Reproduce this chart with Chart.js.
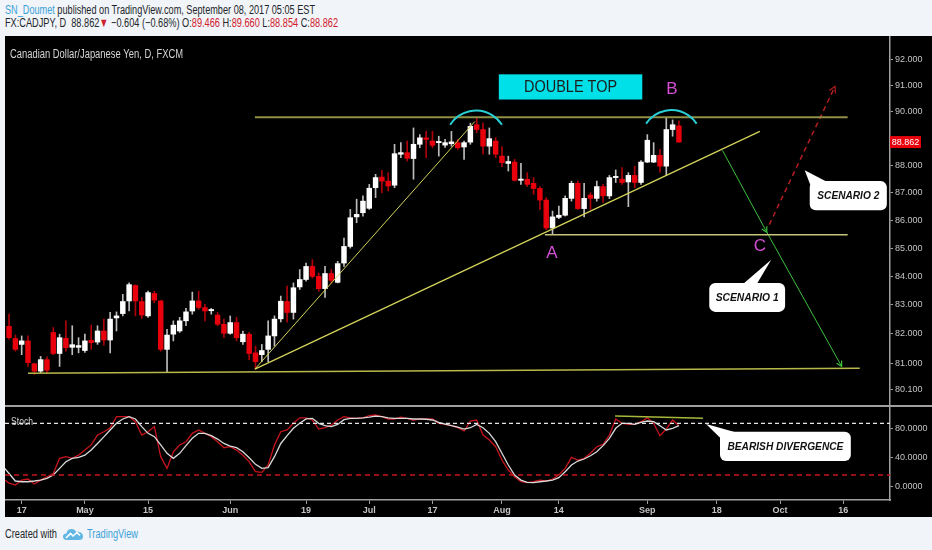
<!DOCTYPE html>
<html>
<head>
<meta charset="utf-8">
<script src="https://cdn.jsdelivr.net/npm/chart.js@4.4.1/dist/chart.umd.min.js"></script>
<style>
html,body{margin:0;padding:0;width:932px;height:550px;overflow:hidden;background:#f1f4f8;font-family:"Liberation Sans",Arial,sans-serif;}
.txt{position:absolute;white-space:nowrap;font-size:12.5px;line-height:14px;color:#22262b;transform-origin:0 50%;}
.blue{color:#3ba2d8}
.red{color:#d0202c}
#panel{position:absolute;left:5px;top:36px;width:927px;height:481px;background:#000;}
.wrap{position:absolute;left:5px;width:927px;}
#sep{position:absolute;left:5px;top:405px;width:927px;height:1.5px;background:#a0a0a0;}
</style>
</head>
<body>
<div id="h1" class="txt" style="left:5px;top:3px"><span class="blue">SN_Doumet</span> published on TradingView.com, September 08, 2017 05:05 EST</div>
<div id="h2" class="txt" style="left:5px;top:16px">FX:CADJPY, D&nbsp; 88.862<span class="red">▼</span> −0.604 (−0.68%) O:<span class="red">89.466</span> H:<span class="red">89.660</span> L:<span class="red">88.854</span> C:<span class="red">88.862</span></div>
<div id="panel"></div>
<div class="wrap" style="top:36px;height:370px"><canvas id="main"></canvas></div>
<div class="wrap" style="top:406px;height:111px"><canvas id="stoch"></canvas></div>
<div id="sep"></div>
<div id="f1" class="txt" style="left:5px;top:527px">Created with</div>
<svg style="position:absolute;left:63px;top:527px" width="20" height="14" viewBox="0 0 20 14">
<path d="M4 13 Q0 13 0 9.5 Q0 6.5 3.5 6.5 Q4 2 8.5 2 Q12 2 13 5 Q14.5 4 16 5 Q20 5.5 20 9.5 Q20 13 16 13 Z" fill="#62b6e4"/>
<path d="M3 11 L7.5 6.5 L10 9 L14 5.5 L17 8.5" stroke="#fff" stroke-width="1.6" fill="none"/>
</svg>
<div id="f2" class="txt blue" style="left:87px;top:527px">TradingView</div>
<script>
// ---------------- DATA ----------------
const CANDLE_START = -2; // trading-day index of first candle (0 = Apr 17, 2017)
const OPEN = [82.26,81.84,81.64,81.76,80.98,80.73,81.12,82.05,81.33,81.85,
81.54,81.54,81.43,81.78,81.72,82.10,81.79,82.55,82.70,83.14,
83.68,83.12,82.62,83.40,83.14,81.47,81.99,82.10,82.45,82.79,
83.14,82.91,82.80,82.65,82.33,82.02,82.39,81.73,81.99,81.35,
81.29,81.47,81.93,82.52,83.12,82.74,83.63,83.89,84.35,84.00,
83.57,84.10,83.79,84.47,85.06,86.12,86.27,86.43,87.18,87.57,
87.42,87.27,88.41,88.47,88.25,88.78,89.02,88.90,88.84,88.75,
88.80,88.84,88.68,88.86,89.51,89.33,88.71,88.90,88.34,88.07,
88.12,87.45,87.49,87.34,87.15,86.73,85.72,86.10,86.18,86.79,
87.34,86.42,86.91,86.79,87.22,86.88,87.55,87.49,87.39,87.63,
87.37,88.12,88.12,88.37,87.97,89.33,89.466];
const HIGH = [82.68,81.96,81.93,81.93,81.00,81.23,81.22,82.22,81.99,82.45,
82.28,81.87,81.99,82.30,82.28,82.51,82.74,82.76,83.37,83.77,
83.71,83.26,83.48,83.48,83.16,82.16,82.45,82.57,82.88,83.45,
83.48,83.02,82.88,82.74,82.51,82.62,82.57,82.10,82.05,81.58,
81.64,82.45,82.62,83.31,83.66,83.77,84.24,84.47,84.59,84.12,
84.35,84.24,84.53,85.36,86.39,86.76,86.88,87.30,87.67,87.82,
87.73,88.78,88.84,88.90,89.39,89.14,89.26,89.26,89.08,88.96,
89.26,88.96,88.90,89.57,89.76,89.57,89.39,89.02,88.69,88.34,
88.22,88.07,87.73,87.55,87.22,86.82,86.33,86.51,86.88,87.42,
87.42,87.34,87.00,87.42,87.30,87.63,87.83,87.92,87.73,87.97,
88.18,89.14,88.84,88.59,89.76,89.69,89.660];
const LOW = [81.82,81.41,81.29,80.89,80.62,80.68,80.65,81.29,80.89,81.41,
81.29,81.35,81.37,81.47,81.64,81.61,81.35,82.10,82.62,82.79,
82.62,82.53,82.57,83.08,81.41,80.69,81.76,82.05,82.28,82.68,
82.85,82.45,82.68,82.28,81.87,81.99,81.76,81.64,81.12,80.80,
81.05,81.05,81.58,82.41,82.40,82.51,83.54,83.83,83.94,83.48,
83.26,83.77,83.77,84.35,85.00,85.91,86.15,86.39,86.82,87.00,
87.06,87.18,88.28,88.16,87.49,88.65,88.28,88.65,88.34,88.66,
88.71,88.59,88.22,88.78,89.21,88.41,88.41,88.28,87.95,87.79,
87.42,87.30,87.22,86.94,86.39,85.66,85.48,86.06,86.15,86.69,
86.39,86.12,86.39,86.69,86.64,86.78,87.37,87.30,86.49,87.18,
87.30,88.10,88.10,87.75,87.63,89.08,88.854];
const CLOSE = [81.87,81.47,81.76,81.02,80.73,81.12,80.76,81.33,81.87,81.53,
81.63,81.60,81.76,81.70,82.10,81.79,82.51,82.62,83.12,83.71,
83.14,82.65,83.43,83.17,81.47,81.96,82.30,82.45,82.76,83.14,
82.91,82.79,82.81,82.33,82.02,82.39,81.87,81.99,81.33,81.05,
81.43,81.93,82.51,83.13,82.74,83.60,83.89,84.35,84.00,83.57,
84.10,83.86,84.45,85.06,86.09,86.21,86.69,87.16,87.55,87.42,
87.24,88.43,88.47,88.26,88.78,89.02,88.96,88.74,88.86,88.84,
88.87,88.65,88.84,89.45,89.33,88.71,88.99,88.41,88.10,88.14,
87.45,87.49,87.30,87.15,86.73,85.72,86.12,86.18,86.79,87.34,
86.42,86.79,86.79,87.22,86.88,87.55,87.59,87.37,87.63,87.37,
88.12,88.93,88.37,87.97,89.33,89.51,88.862];

const STOCH_START = -3;
const STOCH_K = [11,5,2.3,9,10.5,3.7,9,13.6,18,38.7,41,38.7,43,50,57,70.5,75,80,95.5,95.5,
95.5,88.7,70.5,75,82,41,25,47.7,57,61.4,72.8,77.4,72.8,68.2,61.4,53.2,54.6,50,43,34,
20.5,19.6,29.6,57,75,77.4,86.5,94,94,91,78.7,80.5,84,91,95.5,94,93.3,94,96.9,97.8,
95.5,92.4,92.4,95,93.3,90.6,92.4,92.4,92.4,86.5,85,83.2,80.5,76,89.6,91,70.5,63.7,54.6,36.4,
22.8,13.6,6.8,5.5,6.8,9,7.8,10.5,16,25,40,36.4,38.7,45.6,54.6,57.8,70.5,92.4,86.5,85,
85,88.7,94,86.5,69.6,78.7,91,83.2];
const STOCH_D = [28,18,7.8,6.8,6.8,7.8,9.1,11.4,16,25,34,38.7,40,43,50,59,68,77.4,86.5,92.4,
95.5,92.4,82,72.8,68.2,57,45.6,38.7,45.6,56,66,72.8,72.8,69.6,65,59,55.5,53.2,47.7,39.6,
30.5,25,26,41,59,69.6,79.7,86.5,92.4,93.3,86.5,83.2,82,85,91.5,93.3,93.3,94,95,96.4,
95.5,94,93.3,93.3,93.3,92.4,92.4,92,91,87.8,85.5,83.2,81.4,78.7,80.5,85,80.5,72.8,61.4,45.6,
29.6,16,9,6,5.5,6.8,7.8,9,12.3,20.5,29.6,35,37.8,42.3,47.7,56,66,79.7,86.5,86.5,
85,87.8,89.6,88.7,83.2,77.4,79.7,83.2];

const X_MIN = -2.64, X_MAX = 137.4;
const PRICE_MIN = 79.56, PRICE_MAX = 92.90;
const PRICE_TICKS = [80.1, 81, 82, 83, 84, 85, 86, 87, 88, 90, 91, 92];
const LAST_PRICE = 88.862;
const ST_MIN = -18.1, ST_MAX = 110.1;
const ST_TICKS = [0, 40, 80];
const ST_UPPER = 86.5, ST_LOWER = 16;
const X_TICK_POS = [0, 10, 20, 33, 45, 55, 65, 76, 85, 99, 110, 120, 130];
const X_TICK_LABELS = ['17','May','15','Jun','19','Jul','17','Aug','14','Sep','18','Oct','16'];

// drawings (x = trading-day index, y = price)
const TOP_LINE = [[36.9, 89.79], [130.7, 89.79]];
const NECK_LINE = [[82.8, 85.48], [130.7, 85.48]];
const BASE_LINE = [[1.0, 80.66], [132.6, 80.83]];
const TREND_STEEP = [[36.9, 80.80], [71.7, 89.63]];
const TREND_RISING = [[36.9, 80.80], [116.8, 89.26]];
const SCENARIO1_PATH = [[110.9, 88.55], [117.9, 85.57], [129.75, 80.89]];
const SCENARIO2_PATH = [[118.3, 85.84], [128.7, 90.96]];
const TOP_ARCS = [[[67.8, 89.51], [71.9, 90.04], [76.0, 89.51]], [[98.8, 89.55], [102.8, 90.06], [106.8, 89.55]]];
const DOUBLE_TOP_BOX = [75.5, 91.42, 98.2, 90.46];
const POINT_LABELS = [['A', 83.9, 84.83], ['B', 102.9, 90.84], ['C', 116.8, 85.06]];
const MAIN_CALLOUTS = [
  {text: 'SCENARIO 2', box: [124.7, 87.42, 136.9, 86.36], tip: [123.9, 87.82], base: [[124.8, 87.28], [127.4, 87.40]], w: 62},
  {text: 'SCENARIO 1', box: [108.8, 83.77, 120.8, 82.76], tip: [118.6, 84.59], base: [[114.1, 83.72], [116.3, 83.72]], w: 63}
];
const ST_DIVERGENCE = [[93.9, 96.5], [107.8, 93.3]];
const ST_CALLOUT = {text: 'BEARISH DIVERGENCE', box: [110.5, 75, 131.2, 35], tip: [108.3, 85.5], base: [[110.6, 66], [112.8, 74.5]], w: 116};

// ---------------- HELPERS ----------------
Chart.defaults.font.family = '"Liberation Sans", Arial, sans-serif';
const AXIS_W = 42;
const FONT = '"Liberation Sans", Arial, sans-serif';

function fitText(ctx, s, x, y, font, color, width, align) {
  ctx.save();
  ctx.font = font; ctx.fillStyle = color; ctx.textBaseline = 'middle';
  const m = ctx.measureText(s).width;
  const sx = width ? width / m : 1;
  ctx.translate(x, y); ctx.scale(sx, 1);
  ctx.textAlign = align || 'left';
  ctx.fillText(s, 0, 0);
  ctx.restore();
}
function circle3(a, b, c) {
  const d = 2 * (a[0] * (b[1] - c[1]) + b[0] * (c[1] - a[1]) + c[0] * (a[1] - b[1]));
  const A = a[0] ** 2 + a[1] ** 2, B = b[0] ** 2 + b[1] ** 2, C = c[0] ** 2 + c[1] ** 2;
  const ux = (A * (b[1] - c[1]) + B * (c[1] - a[1]) + C * (a[1] - b[1])) / d;
  const uy = (A * (c[0] - b[0]) + B * (a[0] - c[0]) + C * (b[0] - a[0])) / d;
  return {x: ux, y: uy, r: Math.hypot(a[0] - ux, a[1] - uy)};
}
function arrowHead(ctx, x1, y1, x2, y2, color, size) {
  const ang = Math.atan2(y2 - y1, x2 - x1);
  ctx.save();
  ctx.strokeStyle = color; ctx.lineWidth = 1.2; ctx.setLineDash([]);
  ctx.beginPath();
  ctx.moveTo(x2 - size * Math.cos(ang - 0.5), y2 - size * Math.sin(ang - 0.5));
  ctx.lineTo(x2, y2);
  ctx.lineTo(x2 - size * Math.cos(ang + 0.5), y2 - size * Math.sin(ang + 0.5));
  ctx.stroke();
  ctx.restore();
}
function drawCallout(ctx, X, Y, c, font) {
  const x1 = X(c.box[0]), y1 = Y(c.box[1]), x2 = X(c.box[2]), y2 = Y(c.box[3]);
  ctx.save();
  ctx.fillStyle = '#ffffff';
  ctx.beginPath();
  ctx.roundRect(x1, y1, x2 - x1, y2 - y1, 6);
  ctx.fill();
  ctx.beginPath();
  ctx.moveTo(X(c.tip[0]), Y(c.tip[1]));
  ctx.lineTo(X(c.base[0][0]), Y(c.base[0][1]));
  ctx.lineTo(X(c.base[1][0]), Y(c.base[1][1]));
  ctx.closePath(); ctx.fill();
  ctx.restore();
  fitText(ctx, c.text, (x1 + x2) / 2, (y1 + y2) / 2 + 0.5, font, '#111111', c.w, 'center');
}
function lineDs(pts, color, width, dash) {
  return {type: 'line', data: pts.map(([x, y]) => ({x, y})), borderColor: color, borderWidth: width,
    borderDash: dash || [], pointRadius: 0, pointHoverRadius: 0, fill: false, tension: 0, order: 0};
}

// ---------------- MAIN CHART ----------------
const idx = OPEN.map((_, k) => CANDLE_START + k);
const isUp = OPEN.map((o, k) => CLOSE[k] >= o);

const mainAnnot = {
  id: 'mainAnnot',
  afterDatasetsDraw(chart) {
    const {ctx, chartArea: ca, scales: {x, y}} = chart;
    const X = v => x.getPixelForValue(v), Y = v => y.getPixelForValue(v);
    ctx.save();
    ctx.beginPath(); ctx.rect(ca.left, ca.top, ca.right - ca.left, ca.bottom - ca.top); ctx.clip();
    for (const a of TOP_ARCS) {
      const p = a.map(([i, v]) => [X(i), Y(v)]);
      const c = circle3(p[0], p[1], p[2]);
      ctx.beginPath();
      ctx.arc(c.x, c.y, c.r, Math.atan2(p[0][1] - c.y, p[0][0] - c.x), Math.atan2(p[2][1] - c.y, p[2][0] - c.x), false);
      ctx.strokeStyle = '#28d0d6'; ctx.lineWidth = 2; ctx.stroke();
    }
    const s1 = SCENARIO1_PATH.map(([i, v]) => [X(i), Y(v)]);
    arrowHead(ctx, s1[0][0], s1[0][1], s1[1][0], s1[1][1], '#3cc03c', 6);
    arrowHead(ctx, s1[1][0], s1[1][1], s1[2][0], s1[2][1], '#3cc03c', 6);
    const s2 = SCENARIO2_PATH.map(([i, v]) => [X(i), Y(v)]);
    arrowHead(ctx, s2[0][0], s2[0][1], s2[1][0], s2[1][1], '#b41e1e', 7);
    const b = DOUBLE_TOP_BOX;
    ctx.fillStyle = '#00e0e8';
    ctx.fillRect(X(b[0]), Y(b[1]), X(b[2]) - X(b[0]), Y(b[3]) - Y(b[1]));
    fitText(ctx, 'DOUBLE TOP', (X(b[0]) + X(b[2])) / 2, (Y(b[1]) + Y(b[3])) / 2 + 0.5, '17px ' + FONT, '#1c1c1c', 93, 'center');
    for (const [t, i, v] of POINT_LABELS) fitText(ctx, t, X(i), Y(v), '17px ' + FONT, '#d44fd4', 0, 'center');
    for (const c of MAIN_CALLOUTS) drawCallout(ctx, X, Y, c, 'bold italic 11px ' + FONT);
    fitText(ctx, 'Canadian Dollar/Japanese Yen, D, FXCM', ca.left + 5, ca.top + 19, '12.5px ' + FONT, '#d6d6d6', 173, 'left');
    ctx.restore();
  },
  afterDraw(chart) {
    const {ctx, chartArea: ca, scales: {y}} = chart;
    const py = y.getPixelForValue(LAST_PRICE);
    ctx.save();
    ctx.fillStyle = '#e8000c';
    ctx.fillRect(ca.right, py - 6, 31, 12);
    fitText(ctx, LAST_PRICE.toFixed(3), ca.right + 15.5, py + 0.5, '9px ' + FONT, '#ffffff', 0, 'center');
    ctx.restore();
  }
};

new Chart(document.getElementById('main'), {
  type: 'bar',
  data: {datasets: [
    {label: 'wick', data: idx.map((i, k) => ({x: i, y: [LOW[k], HIGH[k]]})),
      backgroundColor: isUp.map(u => u ? '#bdbdbd' : '#b0000a'), barThickness: 1, grouped: false, order: 3},
    {label: 'body', data: idx.map((i, k) => ({x: i, y: [OPEN[k], CLOSE[k]]})),
      backgroundColor: isUp.map(u => u ? '#ffffff' : '#e8000c'), barThickness: 4.8, minBarLength: 1.2, grouped: false, order: 2},
    lineDs(TOP_LINE, '#8f8f45', 2),
    lineDs(NECK_LINE, '#c6c67a', 1.5),
    lineDs(BASE_LINE, '#b9b94a', 1.5),
    lineDs(TREND_STEEP, '#d4d45a', 1),
    lineDs(TREND_RISING, '#d4d45a', 1.2),
    lineDs(SCENARIO1_PATH, '#3cc03c', 1),
    lineDs(SCENARIO2_PATH, '#b41e1e', 1.5, [5, 4])
  ]},
  options: {
    responsive: true, maintainAspectRatio: false, animation: false, events: [],
    layout: {padding: 0},
    plugins: {legend: {display: false}, tooltip: {enabled: false}},
    scales: {
      x: {type: 'linear', min: X_MIN, max: X_MAX, offset: false, display: false},
      y: {type: 'logarithmic', position: 'right', min: PRICE_MIN, max: PRICE_MAX,
        afterBuildTicks: s => { s.ticks = PRICE_TICKS.map(v => ({value: v})); },
        afterFit: s => { s.width = AXIS_W; s.paddingTop = 0; s.paddingBottom = 0; },
        grid: {drawOnChartArea: false, tickLength: 3, color: '#a0a0a0'},
        border: {display: true, color: '#a0a0a0', width: 1.5},
        ticks: {color: '#c4c4c4', font: {size: 9}, padding: 2, autoSkip: false, callback: v => Number(v).toFixed(3)}
      }
    }
  },
  plugins: [mainAnnot]
});

// ---------------- STOCH CHART ----------------
const stochAnnot = {
  id: 'stochAnnot',
  afterDatasetsDraw(chart) {
    const {ctx, chartArea: ca, scales: {x, y}} = chart;
    const X = v => x.getPixelForValue(v), Y = v => y.getPixelForValue(v);
    fitText(ctx, 'Stoch', ca.left + 6, Y(ST_UPPER) - 1.5, '11px ' + FONT, '#d0d0d0', 22, 'left');
    drawCallout(ctx, X, Y, ST_CALLOUT, 'bold italic 11px ' + FONT);
  }
};
const stX = k => STOCH_START + k;
new Chart(document.getElementById('stoch'), {
  type: 'line',
  data: {datasets: [
    {data: STOCH_K.map((v, k) => ({x: stX(k), y: v})), borderColor: '#c8141c', borderWidth: 1.3, pointRadius: 0, tension: 0, order: 2},
    {data: STOCH_D.map((v, k) => ({x: stX(k), y: v})), borderColor: '#d9d9d9', borderWidth: 1.3, pointRadius: 0, tension: 0, order: 1},
    lineDs([[X_MIN, ST_UPPER], [X_MAX, ST_UPPER]], '#e6e6e6', 1.2, [4, 3]),
    lineDs([[X_MIN, ST_LOWER], [X_MAX, ST_LOWER]], '#c8141c', 1.5, [5, 4]),
    lineDs(ST_DIVERGENCE, '#a8b83a', 1.5)
  ]},
  options: {
    responsive: true, maintainAspectRatio: false, animation: false, events: [],
    layout: {padding: 0},
    plugins: {legend: {display: false}, tooltip: {enabled: false}},
    scales: {
      x: {type: 'linear', min: X_MIN, max: X_MAX, offset: false,
        afterBuildTicks: s => { s.ticks = X_TICK_POS.map(v => ({value: v})); },
        afterFit: s => { s.height = 17; s.paddingLeft = 0; s.paddingRight = 0; },
        grid: {drawOnChartArea: false, tickLength: 4, color: '#a0a0a0'},
        border: {display: true, color: '#a0a0a0', width: 1.5},
        ticks: {color: '#c4c4c4', font: {size: 9, weight: 'bold'}, padding: 1, maxRotation: 0, autoSkip: false,
          callback: (v, i) => X_TICK_LABELS[i]}
      },
      y: {position: 'right', min: ST_MIN, max: ST_MAX,
        afterBuildTicks: s => { s.ticks = ST_TICKS.map(v => ({value: v})); },
        afterFit: s => { s.width = AXIS_W; s.paddingTop = 0; s.paddingBottom = 0; },
        grid: {drawOnChartArea: false, tickLength: 3, color: '#a0a0a0'},
        border: {display: true, color: '#a0a0a0', width: 1.5},
        ticks: {color: '#c4c4c4', font: {size: 9}, padding: 2, autoSkip: false, callback: v => Number(v).toFixed(4)}
      }
    }
  },
  plugins: [stochAnnot]
});

// ---------------- header / footer text widths ----------------
function squeeze(id, target) {
  const el = document.getElementById(id);
  el.style.transform = 'none';
  const w = el.getBoundingClientRect().width;
  el.style.transform = 'scaleX(' + (target / w) + ')';
}
squeeze('h1', 310); squeeze('h2', 333); squeeze('f1', 52); squeeze('f2', 51);
</script>
</body>
</html>
